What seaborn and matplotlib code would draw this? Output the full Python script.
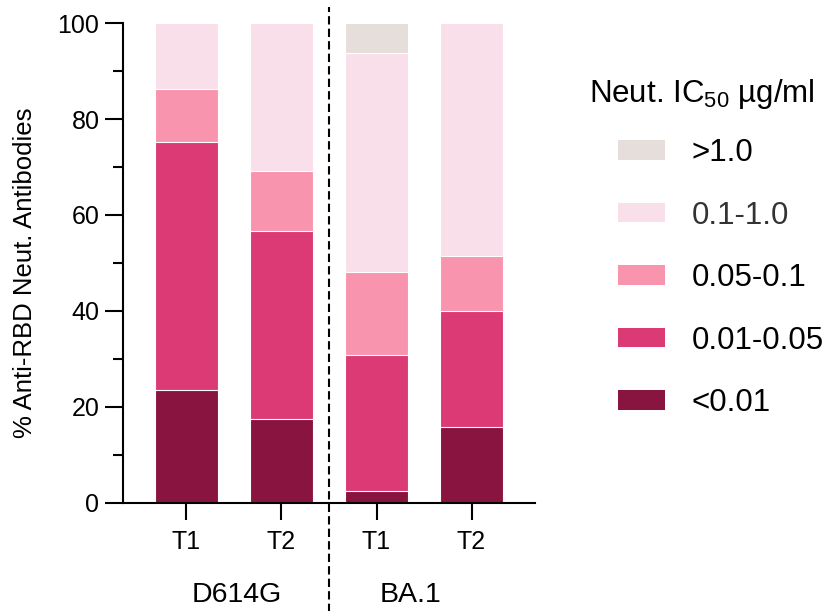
import numpy as np
import pandas as pd
import matplotlib
matplotlib.use("Agg")
import matplotlib.pyplot as plt
from matplotlib.patches import Patch
import matplotlib.transforms as mtransforms
import seaborn as sns

# ---- data ----
bars = ["D614G T1", "D614G T2", "BA.1 T1", "BA.1 T2"]
time_labels = ["T1", "T2", "T1", "T2"]
groups = ["D614G", "BA.1"]
categories = [">1.0", "0.1-1.0", "0.05-0.1", "0.01-0.05", "<0.01"]
gt1 = [0.0, 0.0, 6.2, 0.0]
r01_1 = [13.7, 30.9, 45.8, 48.6]
r005_01 = [11.0, 12.5, 17.2, 11.5]
r001_005 = [51.9, 39.2, 28.4, 24.2]
lt001 = [23.4, 17.4, 2.4, 15.7]
colors = ["#E6DEDB", "#F9DFE9", "#F994AE", "#DC3A75", "#891440"]
label_colors = ["black", "#333333", "black", "black", "black"]

sns.set_style("ticks")
plt.rcParams["font.family"] = ["Liberation Sans", "DejaVu Sans"]
plt.rcParams["mathtext.fontset"] = "custom"
plt.rcParams["mathtext.rm"] = "Liberation Sans"
plt.rcParams["mathtext.it"] = "Liberation Sans:italic"
plt.rcParams["mathtext.bf"] = "Liberation Sans:bold"
plt.rcParams["text.color"] = "black"
plt.rcParams["axes.labelcolor"] = "black"
plt.rcParams["xtick.color"] = "black"
plt.rcParams["ytick.color"] = "black"

W, H = 831, 611
fig = plt.figure(figsize=(W / 100, H / 100), dpi=100)
ax = fig.add_axes([123 / W, 1 - 502.5 / H, (535 - 123) / W, (502.5 - 23.3) / H])

layers = [gt1, r01_1, r005_01, r001_005, lt001]
stack = np.array(layers)
# cumulative tops, drawn from the top layer down
for i, (vals, c) in enumerate(zip(layers, colors)):
    top = stack[i:].sum(axis=0)
    df = pd.DataFrame({"bar": bars, "value": top})
    sns.barplot(data=df, x="bar", y="value", order=bars, color=c, saturation=1,
                errorbar=None, width=0.663, edgecolor="white", linewidth=0.8, ax=ax)

ax.set_xlim(-0.668, 3.668)
ax.set_ylim(0, 100)
ax.set_yticks([0, 20, 40, 60, 80, 100])
ax.set_yticks([10, 30, 50, 70, 90], minor=True)
ax.set_xticks(range(len(bars)))
ax.set_xticklabels(time_labels)
ax.set_xlabel("")
ax.set_ylabel("")

for s in ["top", "right"]:
    ax.spines[s].set_visible(False)
for s in ["left", "bottom"]:
    ax.spines[s].set_linewidth(1.5)
    ax.spines[s].set_color("black")

ax.tick_params(axis="y", which="major", length=13, width=1.5, labelsize=18, pad=4,
               colors="black", labelcolor="black")
ax.tick_params(axis="y", which="minor", length=7.5, width=1.5, colors="black")
ax.tick_params(axis="x", which="major", length=12.5, width=1.5, labelsize=18, pad=7,
               colors="black", labelcolor="black")

# dashed separator between groups
ax.axvline(1.5, ymin=-0.23, ymax=1.034, clip_on=False, color="black",
           lw=1.5, ls=(0, (4, 2)))

# group labels
trans = mtransforms.blended_transform_factory(ax.transData, fig.transFigure)
ax.text(0.53, 1 - 602 / H, groups[0], transform=trans, ha="center", va="baseline",
        fontsize=20.5, color="black")
ax.text(2.36, 1 - 602 / H, groups[1], transform=trans, ha="center", va="baseline",
        fontsize=20.5, color="black")

# y label
fig.text(25 / W, 1 - 273 / H, "% Anti-RBD Neut. Antibodies", rotation=90,
         ha="center", va="center", fontsize=18.5, color="black")

# legend
handles = [Patch(facecolor=c, edgecolor="none") for c in colors]
fs = 22.5
leg = fig.legend(handles, categories, loc="upper left",
                 bbox_to_anchor=(618 / W, 1 - 138 / H), frameon=False,
                 borderpad=0, borderaxespad=0, fontsize=fs,
                 handlelength=1.5, handleheight=0.58, handletextpad=0.85,
                 labelspacing=1.04)
for t, lc in zip(leg.get_texts(), label_colors):
    t.set_color(lc)
fig.text(589 / W, 1 - 102 / H, r"Neut. IC$_{50}$ µg/ml", ha="left", va="baseline",
         fontsize=fs, color="black")

fig.savefig("out.png", dpi=100)
